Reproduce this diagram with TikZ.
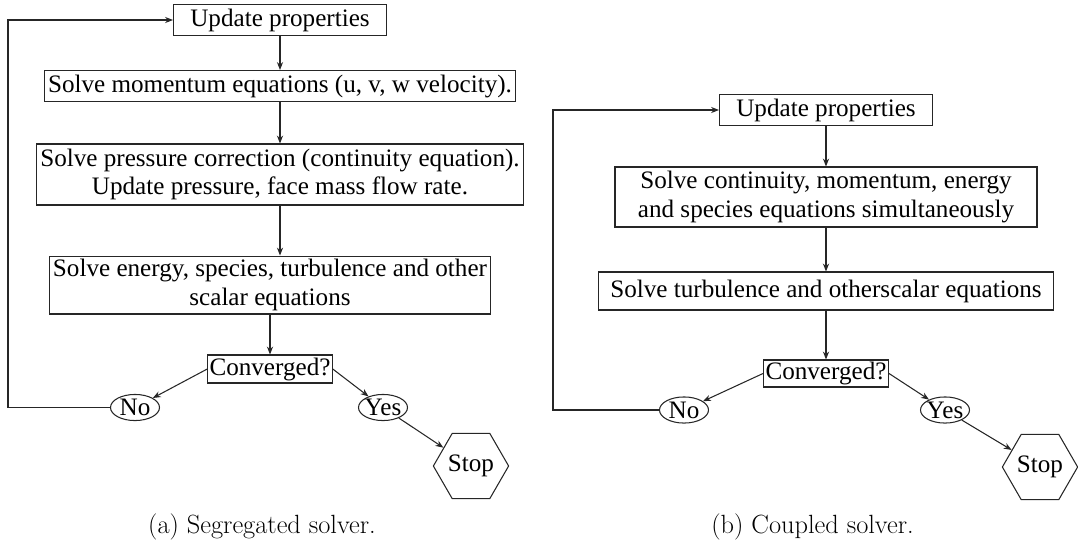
\documentclass[tikz,border=0pt]{standalone}
\usepackage{fontspec}
\newfontfamily\boxfont{Liberation Serif}
\usetikzlibrary{arrows.meta, shapes.geometric, positioning}

\begin{document}
\begin{tikzpicture}
	\tikzset{
		box node/.style={rectangle, draw=black!85, line width=0.6pt, font=\boxfont\fontsize{14.3}{16}\selectfont, align=center, inner sep=2pt, minimum height=0.62cm},
		ans node/.style={ellipse, draw=black!85, line width=0.6pt, font=\boxfont\fontsize{14.3}{16}\selectfont, inner xsep=-1.5pt, inner ysep=0.5pt, minimum width=0.98cm, minimum height=0.48cm},
		stop node/.style={regular polygon, regular polygon sides=6, draw=black!85, line width=0.6pt, font=\boxfont\fontsize{14.3}{16}\selectfont, inner sep=0pt, minimum size=1.36cm},
		flow/.style={-{Stealth[length=4.5pt, width=3.5pt]}, draw=black!85, line width=0.6pt},
		caption/.style={font=\fontsize{15}{17}\selectfont}
	}
	\useasboundingbox (0,0) rectangle (21.56,-10.9);
	
	% Segregated solver
	\node (upd1) at (5.6,-0.4) [box node, minimum width=4.26cm] {Update properties};
	\node (mom1) at (5.6,-1.72) [box node, minimum width=9.32cm] {Solve momentum equations (u, v, w velocity).};
	\node (pres1) at (5.6,-3.49) [box node, minimum width=9.4cm, minimum height=1.22cm] {Solve pressure correction (continuity equation).\\ Update pressure, face mass flow rate.};
	\node (ener1) at (5.4,-5.7) [box node, minimum width=8.7cm, minimum height=0.92cm] {Solve energy, species, turbulence and other\\ scalar equations};
	\node (conv1) at (5.4,-7.38) [box node, minimum width=2.38cm, minimum height=0.56cm, inner sep=1pt] {Converged?};
	\node (no1) at (2.7,-8.15) [ans node] {No};
	\node (yes1) at (7.66,-8.15) [ans node] {Yes};
	\node (stop1) at (9.42,-9.32) [stop node] {Stop};
	\coordinate (loop1) at (0.16,-8.15);
	
	\draw[flow] (upd1) -- (mom1);
	\draw[flow] (mom1) -- (pres1);
	\draw[flow] (pres1.south) -- (pres1.south |- ener1.north);
	\draw[flow] (ener1) -- (conv1);
	\draw[flow] (conv1.west) -- (no1);
	\draw[flow] (conv1.east) -- (yes1);
	\draw[flow] (yes1) -- (stop1);
	\draw[flow] (no1.west) -- (loop1) |- (upd1.west);
	
	\node (capa) at (5.24,-10.54) [caption] {(a) Segregated solver.};
	
	% Coupled solver
	\node (upd2) at (16.52,-2.2) [box node, minimum width=4.26cm] {Update properties};
	\node (cont2) at (16.52,-3.94) [box node, minimum width=8.44cm, minimum height=1.2cm] {Solve continuity, momentum, energy\\ and species equations simultaneously};
	\node (turb2) at (16.52,-5.82) [box node, minimum width=9.1cm, minimum height=0.76cm] {Solve turbulence and otherscalar equations};
	\node (conv2) at (16.52,-7.47) [box node, minimum width=2.5cm, minimum height=0.54cm, inner sep=1pt] {Converged?};
	\node (no2) at (13.68,-8.2) [ans node] {No};
	\node (yes2) at (18.9,-8.2) [ans node] {Yes};
	\node (stop2) at (20.8,-9.34) [stop node] {Stop};
	\coordinate (loop2) at (11.06,-8.2);
	
	\draw[flow] (upd2) -- (cont2);
	\draw[flow] (cont2) -- (turb2);
	\draw[flow] (turb2) -- (conv2);
	\draw[flow] (conv2.west) -- (no2);
	\draw[flow] (conv2.east) -- (yes2);
	\draw[flow] (yes2) -- (stop2);
	\draw[flow] (no2.west) -- (loop2) |- (upd2.west);
	
	\node (capb) at (16.25,-10.54) [caption] {(b) Coupled solver.};
\end{tikzpicture}
\end{document}
